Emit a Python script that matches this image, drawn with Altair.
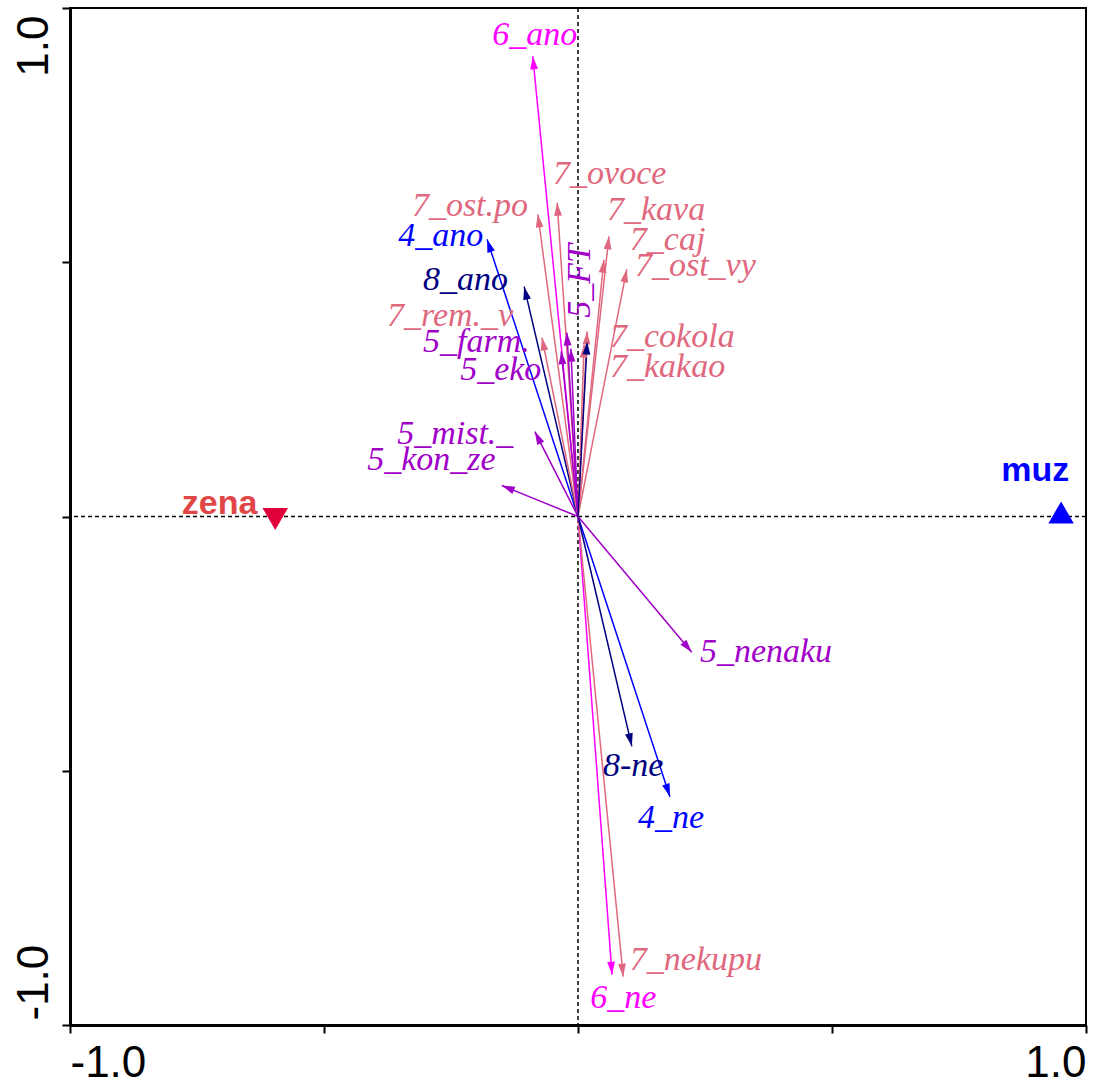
import altair as alt
import pandas as pd

# ---- data (ordination biplot, arrows from origin) ----
names = ["6_ano", "6_ne", "7_nekupu", "4_ne", "8-ne", "5_nenaku", "4_ano", "8_ano",
         "7_ost.po", "7_ovoce", "7_kava", "7_caj", "7_ost_vy", "7_rem._v", "7_cokola",
         "7_kakao", "5_farm.", "5_eko", "5_FT", "5_mist._", "5_kon_ze", ""]
groups = ["6", "6", "7", "4", "8", "5", "4", "8",
          "7", "7", "7", "7", "7", "7", "7",
          "7", "5", "5", "5", "5", "5", "8"]
tip_x = [-0.089, 0.067, 0.089, 0.181, 0.106, 0.224, -0.179, -0.106,
         -0.079, -0.041, 0.061, 0.051, 0.096, -0.071, 0.018,
         0.012, -0.022, -0.033, -0.014, -0.085, -0.150, 0.018]
tip_y = [0.905, -0.901, -0.905, -0.551, -0.452, -0.267, 0.545, 0.452,
         0.594, 0.617, 0.551, 0.505, 0.486, 0.352, 0.364,
         0.338, 0.362, 0.325, 0.330, 0.167, 0.061, 0.344]
label_x = [-0.169, 0.024, 0.102, 0.118, 0.049, 0.240, -0.354, -0.305,
           -0.327, -0.049, 0.057, 0.102, 0.112, -0.376, 0.063,
           0.063, -0.305, -0.232, 0.024, -0.356, -0.415, 0.0]
label_y = [0.928, -0.966, -0.891, -0.612, -0.511, -0.287, 0.531, 0.446,
           0.590, 0.653, 0.584, 0.525, 0.472, 0.374, 0.334,
           0.275, 0.323, 0.269, 0.391, 0.142, 0.092, 0.0]
label_angle = [0, 0, 0, 0, 0, 0, 0, 0,
               0, 0, 0, 0, 0, 0, 0,
               0, 0, 0, 270, 0, 0, 0]

# supplementary (nominal) variables
sup_names = ["zena", "muz"]
sup_x = [-0.596, 0.951]
sup_y = [-0.005, 0.008]
sup_shape = ["triangle-down", "triangle-up"]
sup_label_x = [-0.780, 0.833]
sup_label_y = [0.004, 0.069]

group_domain = ["4", "5", "6", "7", "8"]
group_colors = ["#0000FF", "#A000C8", "#FF00FF", "#E0687E", "#000080"]

arrows = pd.DataFrame({"name": names, "group": groups, "tx": tip_x, "ty": tip_y,
                       "lx": label_x, "ly": label_y, "la": label_angle})
sup = pd.DataFrame({"name": sup_names, "x": sup_x, "y": sup_y, "shape": sup_shape,
                    "lx": sup_label_x, "ly": sup_label_y})

xscale = alt.Scale(domain=[-1, 1], nice=False, zero=False)
yscale = alt.Scale(domain=[-1, 1], nice=False, zero=False)
color = alt.Color("group:N", scale=alt.Scale(domain=group_domain, range=group_colors), legend=None)

xaxis = alt.Axis(values=[-1, -0.5, 0, 0.5, 1], title=None, grid=False,
                 labelExpr="datum.value == -1 ? '-1.0' : (datum.value == 1 ? '1.0' : '')",
                 labelFlush=True, labelFont="Liberation Sans", labelFontSize=44,
                 labelColor="black", labelPadding=8, tickSize=8, tickWidth=2,
                 tickColor="black", domainColor="black", domainWidth=3)
yaxis = alt.Axis(values=[-1, -0.5, 0, 0.5, 1], title=None, grid=False,
                 labelExpr="datum.value == -1 ? '-1.0' : (datum.value == 1 ? '1.0' : '')",
                 labelAngle=270, labelBaseline="alphabetic",
                 labelAlign={"condition": {"test": "datum.value > 0", "value": "right"}, "value": "left"},
                 labelOffset={"condition": {"test": "datum.value > 0", "value": 7}, "value": -5},
                 labelFont="Liberation Sans", labelFontSize=44, labelColor="black",
                 labelPadding=15, tickSize=8, tickWidth=2, tickColor="black",
                 domainColor="black", domainWidth=3)

base = alt.Chart(arrows)

zero_df = pd.DataFrame({"v": [0]})
vline = alt.Chart(zero_df).mark_rule(color="black", strokeDash=[4, 3], strokeWidth=1.5).encode(
    x=alt.X("v:Q", scale=xscale, axis=xaxis))
hline = alt.Chart(zero_df).mark_rule(color="black", strokeDash=[4, 3], strokeWidth=1.5).encode(
    y=alt.Y("v:Q", scale=yscale, axis=yaxis))

shafts = base.transform_calculate(o="0").mark_rule(strokeWidth=1.5).encode(
    x=alt.X("o:Q", scale=xscale, axis=xaxis),
    y=alt.Y("o:Q", scale=yscale, axis=yaxis),
    x2="tx:Q", y2="ty:Q", color=color)

heads = base.transform_calculate(
    ang="(atan2(datum.tx, datum.ty) * 180 / PI + 360) % 360"
).mark_point(shape="M0,0L-0.6,2L0.6,2Z", filled=True, opacity=1, size=169, strokeWidth=0).encode(
    x=alt.X("tx:Q", scale=xscale, axis=xaxis),
    y=alt.Y("ty:Q", scale=yscale, axis=yaxis),
    angle=alt.Angle("ang:Q", scale=None), color=color)

labels = base.mark_text(font="Liberation Serif", fontStyle="italic", fontSize=34,
                        align="left", baseline="alphabetic").encode(
    x=alt.X("lx:Q", scale=xscale, axis=xaxis),
    y=alt.Y("ly:Q", scale=yscale, axis=yaxis),
    angle=alt.Angle("la:Q", scale=None),
    text="name:N", color=color)

sup_base = alt.Chart(sup)
sup_pts = sup_base.mark_point(filled=True, opacity=1, size=650, strokeWidth=0).encode(
    x=alt.X("x:Q", scale=xscale, axis=xaxis),
    y=alt.Y("y:Q", scale=yscale, axis=yaxis),
    shape=alt.Shape("shape:N", scale=None),
    color=alt.Color("name:N", scale=alt.Scale(domain=sup_names, range=["#E0003C", "#0000FF"]), legend=None))
sup_txt = sup_base.mark_text(font="Liberation Sans", fontWeight="bold", fontSize=34,
                             align="left", baseline="alphabetic").encode(
    x=alt.X("lx:Q", scale=xscale, axis=xaxis),
    y=alt.Y("ly:Q", scale=yscale, axis=yaxis),
    text="name:N",
    color=alt.Color("name:N", scale=alt.Scale(domain=sup_names, range=["#E04646", "#0000FF"]), legend=None))

chart = alt.layer(vline, hline, shafts, heads, labels, sup_pts, sup_txt).properties(
    width=1016, height=1017,
    autosize=alt.AutoSizeParams(type="none"),
    padding={"left": 70, "top": 8, "right": 7, "bottom": 61},
    background="white"
).configure_view(stroke="black", strokeWidth=2).resolve_scale(color="independent")

chart.save("out.html", embed_options={"renderer": "svg", "actions": False})
